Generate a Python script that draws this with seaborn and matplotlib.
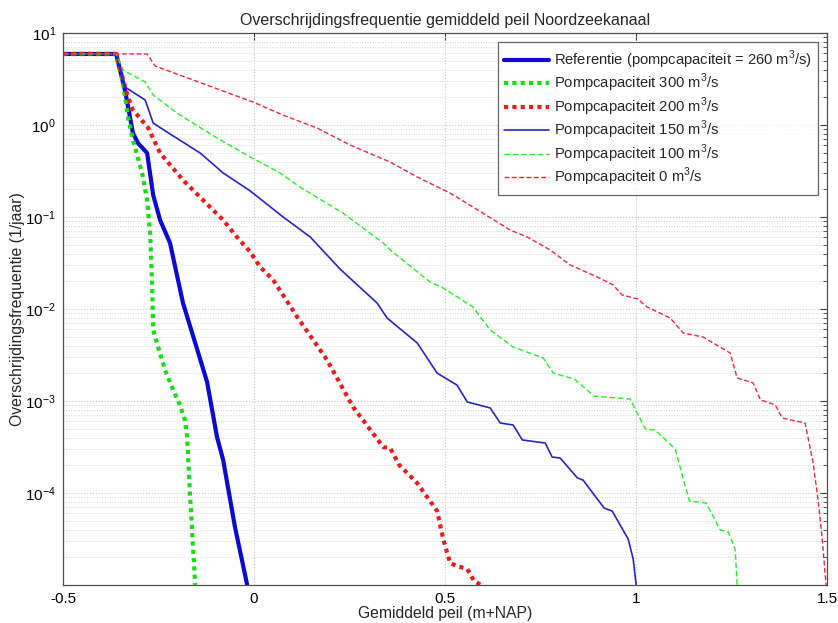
import numpy as np
import pandas as pd
import matplotlib
matplotlib.use('Agg')
import matplotlib.pyplot as plt
import seaborn as sns
from matplotlib.ticker import LogLocator, FixedLocator, NullFormatter

# values (peil in m+NAP, frequentie in 1/jaar)
ref_x = [-0.5, -0.361, -0.338, -0.317, -0.304, -0.280, -0.264, -0.246, -0.220,
         -0.186, -0.154, -0.123, -0.097, -0.081, -0.050, -0.018]
ref_y = [5.92, 5.92, 2.40, 0.819, 0.637, 0.496, 0.173, 0.0927, 0.0522,
         0.0116, 0.00427, 0.00161, 0.000406, 0.000229, 4.27e-5, 1e-5]

p300_x = [-0.5, -0.361, -0.343, -0.330, -0.317, -0.293, -0.280, -0.272, -0.267,
          -0.264, -0.254, -0.233, -0.215, -0.194, -0.181, -0.175, -0.168, -0.154]
p300_y = [5.92, 5.92, 2.86, 1.22, 0.687, 0.301, 0.153, 0.0670, 0.0192,
          0.00591, 0.00427, 0.00217, 0.00142, 0.000905, 0.000621, 0.000406, 0.0001, 1e-5]

p200_x = [-0.5, -0.361, -0.330, -0.317, -0.277, -0.246, -0.186, -0.115, -0.081,
          -0.045, -0.010, 0.016, 0.050, 0.113, 0.191, 0.259, 0.338, 0.356, 0.380,
          0.427, 0.479, 0.495, 0.513, 0.531, 0.558, 0.576, 0.594]
p200_y = [5.92, 5.92, 2.01, 1.46, 0.927, 0.496, 0.252, 0.128, 0.0927,
          0.0606, 0.0417, 0.0286, 0.0207, 0.00818, 0.00279, 0.000861, 0.000316, 0.000308, 0.000201,
          0.000128, 6.37e-5, 3.16e-5, 1.73e-5, 1.61e-5, 1.49e-5, 1.10e-5, 1e-5]

p150_x = [-0.5, -0.361, -0.338, -0.285, -0.264, -0.228, -0.141, -0.081, -0.010,
          0.076, 0.147, 0.225, 0.322, 0.348, 0.427, 0.479, 0.531, 0.558, 0.618,
          0.644, 0.678, 0.702, 0.762, 0.780, 0.801, 0.846, 0.861, 0.916, 0.937,
          0.979, 0.992, 1.000]
p150_y = [5.92, 5.92, 2.59, 1.87, 1.05, 0.839, 0.496, 0.301, 0.192,
          0.100, 0.0606, 0.0272, 0.0116, 0.00798, 0.00427, 0.00201, 0.00149, 0.000975, 0.000840,
          0.000577, 0.000548, 0.000377, 0.000349, 0.000246, 0.000240, 0.000146, 0.000138, 6.87e-5, 6.37e-5,
          3.16e-5, 1.92e-5, 1e-5]

p100_x = [-0.5, -0.361, -0.343, -0.285, -0.264, -0.202, -0.097, -0.010, 0.068,
          0.120, 0.233, 0.338, 0.356, 0.461, 0.495, 0.573, 0.618, 0.678, 0.757,
          0.783, 0.838, 0.890, 0.984, 1.024, 1.050, 1.102, 1.139, 1.183, 1.220,
          1.241, 1.259, 1.264]
p100_y = [5.92, 5.92, 3.96, 2.93, 2.12, 1.35, 0.723, 0.449, 0.301,
          0.212, 0.110, 0.0522, 0.0438, 0.0196, 0.0169, 0.0105, 0.00591, 0.00386, 0.00293,
          0.00201, 0.00173, 0.00113, 0.00105, 0.000496, 0.000484, 0.000301, 8.18e-5, 7.78e-5, 3.96e-5,
          3.77e-5, 2.46e-5, 1e-5]

p0_x = [-0.5, -0.280, -0.259, -0.003, 0.076, 0.165, 0.251, 0.356, 0.427,
        0.513, 0.599, 0.670, 0.715, 0.775, 0.827, 0.898, 0.940, 0.963, 1.003,
        1.029, 1.089, 1.123, 1.175, 1.246, 1.264, 1.306, 1.325, 1.364, 1.382,
        1.442, 1.463, 1.476, 1.487, 1.497]
p0_y = [5.92, 5.92, 4.38, 1.78, 1.28, 0.927, 0.607, 0.396, 0.272,
        0.182, 0.110, 0.0722, 0.0606, 0.0438, 0.0301, 0.0223, 0.0182, 0.0142, 0.0129,
        0.0105, 0.00797, 0.00548, 0.00496, 0.00332, 0.00178, 0.00157, 0.00103, 0.000905, 0.000653,
        0.000577, 0.000212, 8.39e-5, 3.08e-5, 1e-5]

x_ticks = [-0.5, 0, 0.5, 1, 1.5]
x_tick_labels = ['-0.5', '0', '0.5', '1', '1.5']

sns.set_style('white')
plt.rcParams['font.family'] = ['Liberation Sans', 'DejaVu Sans']
plt.rcParams['mathtext.fontset'] = 'custom'
plt.rcParams['mathtext.rm'] = 'Liberation Sans'

fig = plt.figure(figsize=(8.38, 6.23), dpi=100)
ax = fig.add_axes([0.0752, 0.061, 0.912, 0.886])
ax.set_yscale('log')

series = [
    (ref_x, ref_y, 'Referentie (pompcapaciteit = 260 m$^3$/s)', '#0a0ad0', 3.0, '-'),
    (p300_x, p300_y, 'Pompcapaciteit 300 m$^3$/s', '#16dd16', 3.0, (0, (1, 1))),
    (p200_x, p200_y, 'Pompcapaciteit 200 m$^3$/s', '#ec1c1c', 3.0, (0, (1, 1))),
    (p150_x, p150_y, 'Pompcapaciteit 150 m$^3$/s', '#2626c4', 1.2, '-'),
    (p100_x, p100_y, 'Pompcapaciteit 100 m$^3$/s', '#2ee82e', 1.0, (0, (4, 2))),
    (p0_x, p0_y, 'Pompcapaciteit 0 m$^3$/s', '#e42a3c', 1.0, (0, (3.5, 1.8))),
]
for xs, ys, lab, col, lw, ls in series:
    sns.lineplot(x=xs, y=ys, ax=ax, sort=False, estimator=None, label=lab,
                 color=col, linewidth=lw, linestyle=ls)

ax.set_xlim(-0.5, 1.5)
ax.set_ylim(1e-5, 10)
ax.xaxis.set_major_locator(FixedLocator(x_ticks))
ax.set_xticklabels(x_tick_labels)
ax.yaxis.set_major_locator(FixedLocator([1e-4, 1e-3, 1e-2, 1e-1, 1, 10]))
ax.yaxis.set_minor_locator(LogLocator(base=10, subs=np.arange(2, 10), numticks=20))
ax.yaxis.set_minor_formatter(NullFormatter())

ax.grid(True, which='major', axis='both', color='#c4c4c4', linestyle=':', linewidth=0.8)
ax.grid(True, which='minor', axis='y', color='#d6d6d6', linestyle=':', linewidth=0.7)
ax.tick_params(which='both', direction='in', top=True, right=True, colors='#404040',
               labelcolor='black', labelsize=11)
ax.tick_params(which='major', length=5, width=0.8, pad=5)
ax.tick_params(which='minor', length=3, width=0.6)
for s in ax.spines.values():
    s.set_color('#505050')
    s.set_linewidth(0.9)

ax.set_title('Overschrijdingsfrequentie gemiddeld peil Noordzeekanaal', fontsize=11.5, pad=6)
ax.set_xlabel('Gemiddeld peil (m+NAP)', fontsize=11.3, labelpad=0)
ax.set_ylabel('Overschrijdingsfrequentie (1/jaar)', fontsize=11.3, labelpad=0)

leg = ax.legend(loc='upper right', fontsize=10.6, handlelength=3.0, frameon=True,
                fancybox=False, borderaxespad=0.6, labelspacing=0.08,
                handletextpad=0.35, borderpad=0.45)
leg.get_frame().set_edgecolor('#404040')
leg.get_frame().set_linewidth(0.9)

fig.savefig('out.png', dpi=100)
